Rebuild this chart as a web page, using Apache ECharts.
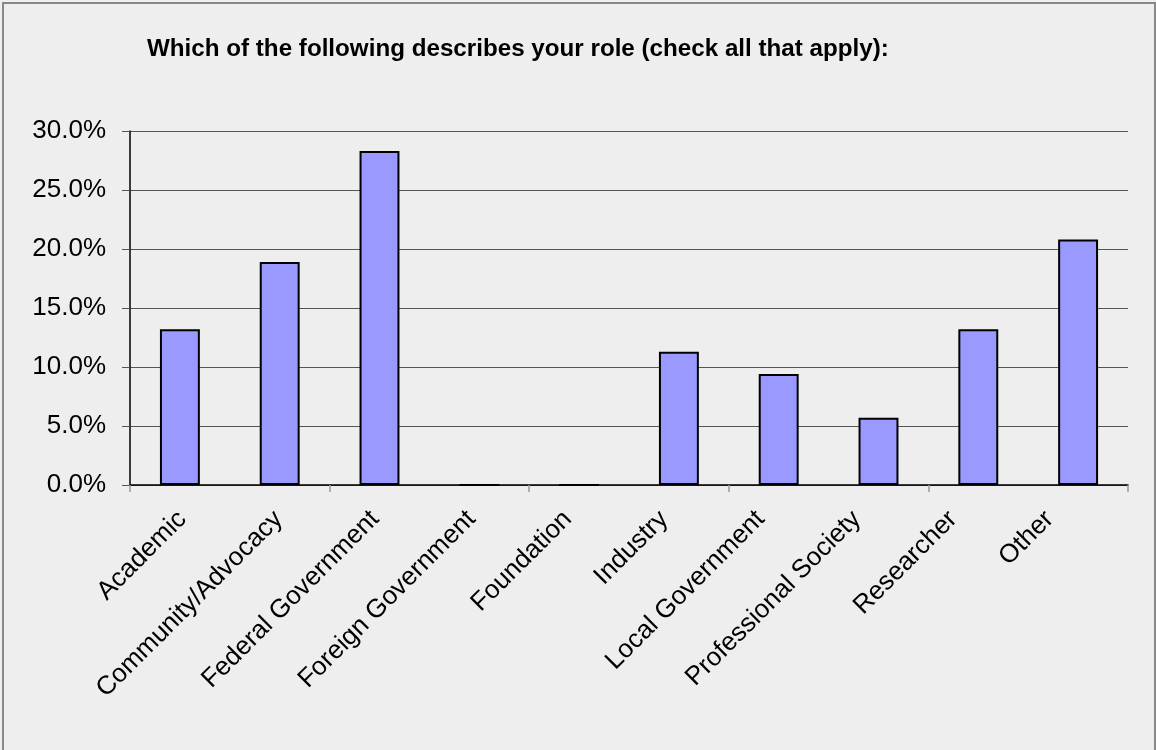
<!DOCTYPE html>
<html>
<head>
<meta charset="utf-8">
<script src="https://cdn.jsdelivr.net/npm/echarts@6/dist/echarts.min.js"></script>
<style>
html,body{margin:0;padding:0;background:#eeeeee;}
#chart{width:1156px;height:750px;}
</style>
</head>
<body>
<div id="chart"></div>
<script>
const titleText = 'Which of the following describes your role (check all that apply):';
const categories = ['Academic','Community/Advocacy','Federal Government','Foreign Government','Foundation','Industry','Local Government','Professional Society','Researcher','Other'];
const values = [13.2, 18.9, 28.3, 0, 0, 11.3, 9.4, 5.7, 13.2, 20.8];
const yTicks = [0, 5, 10, 15, 20, 25, 30];

const font = '"Liberation Sans", Arial, Helvetica, sans-serif';
const chart = echarts.init(document.getElementById('chart'), null, {renderer:'canvas'});
chart.setOption({
  backgroundColor: '#eeeeee',
  animation: false,
  title: {
    text: titleText,
    left: 142, top: 32,
    textStyle: {fontFamily: font, fontSize: 24.2, fontWeight: 'bold', color: '#000'}
  },
  graphic: [{
    type: 'rect', shape: {x: 3, y: 3, width: 1152, height: 760},
    style: {fill: 'none', stroke: '#888', lineWidth: 2}, silent: true
  }],
  grid: [
    {left: 130, right: 28, top: 131, bottom: 265, containLabel: false},
    {left: 125, width: 963.5, top: 131, bottom: 265, containLabel: false}
  ],
  xAxis: [{
    type: 'category', gridIndex: 0, data: categories,
    axisLine: {lineStyle: {color: '#000', width: 1.5}},
    axisTick: {show: true, length: 7, lineStyle: {color: '#999', width: 1.5}},
    axisLabel: {show: false}
  }, {
    type: 'category', gridIndex: 1, data: categories,
    axisLine: {show: false}, axisTick: {show: false},
    axisLabel: {
      show: true, rotate: 45, interval: 0, margin: 21,
      align: 'right', verticalAlign: 'top',
      fontFamily: font, fontSize: 26, color: '#000'
    }
  }],
  yAxis: [{
    type: 'value', gridIndex: 0, min: 0, max: 30, interval: 5,
    axisLine: {show: true, lineStyle: {color: '#000', width: 1.5}},
    axisTick: {show: true, length: 8, lineStyle: {color: '#555'}},
    splitLine: {show: true, lineStyle: {color: '#555', width: 1}},
    axisLabel: {
      margin: 24, fontFamily: font, fontSize: 26, color: '#000',
      formatter: v => v.toFixed(1) + '%'
    }
  }, {
    type: 'value', gridIndex: 1, min: 0, max: 30, show: false
  }],
  series: [{
    type: 'bar', xAxisIndex: 0, yAxisIndex: 0, data: values, barWidth: '40%',
    itemStyle: {color: '#9999ff', borderColor: '#000', borderWidth: 2}
  }]
});
</script>
</body>
</html>
